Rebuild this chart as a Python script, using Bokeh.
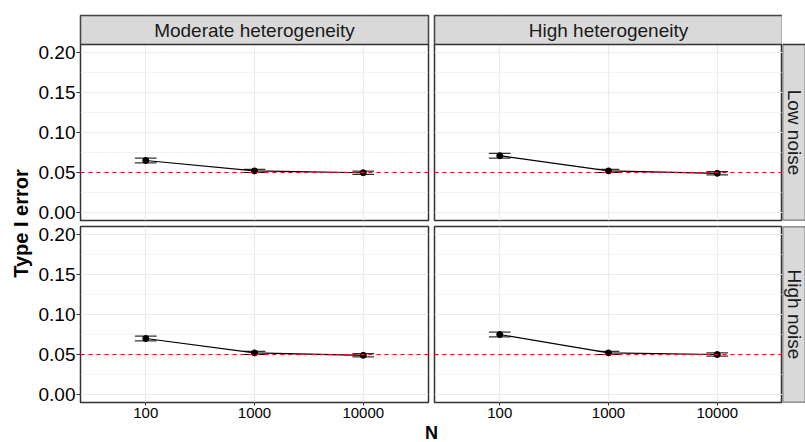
import math
from bokeh.plotting import figure
from bokeh.models import Range1d, FixedTicker, Span, Label, ColumnDataSource, NumeralTickFormatter
from bokeh.core.properties import value
from bokeh.layouts import row, column
from bokeh.embed import file_html
from bokeh.resources import INLINE

# ---------------- data ----------------
N_labels = ["100", "1000", "10000"]
heterogeneity = ["Moderate heterogeneity", "High heterogeneity"]
noise = ["Low noise", "High noise"]
ref_level = 0.05
y_ticks = [0.00, 0.05, 0.10, 0.15, 0.20]
y_minor = [0.025, 0.075, 0.125, 0.175]

# Low noise / Moderate heterogeneity
est_low_mod = [0.065, 0.052, 0.0497]
lo_low_mod = [0.0620, 0.0500, 0.0477]
hi_low_mod = [0.0680, 0.0540, 0.0517]
# Low noise / High heterogeneity
est_low_high = [0.071, 0.052, 0.049]
lo_low_high = [0.0680, 0.0500, 0.0470]
hi_low_high = [0.0740, 0.0540, 0.0510]
# High noise / Moderate heterogeneity
est_high_mod = [0.070, 0.052, 0.049]
lo_high_mod = [0.0670, 0.0500, 0.0470]
hi_high_mod = [0.0730, 0.0540, 0.0510]
# High noise / High heterogeneity
est_high_high = [0.075, 0.052, 0.050]
lo_high_high = [0.0720, 0.0500, 0.0480]
hi_high_high = [0.0780, 0.0540, 0.0520]

# ---------------- style ----------------
FONT = "Liberation Sans"
BORDER = "#333333"
GRID = "#EBEBEB"
STRIP_BG = "#D9D9D9"
CAP = 0.1
x_pos = [i + 1 for i in range(len(N_labels))]
X_LO, X_HI = 0.4, len(N_labels) + 0.6
Y_LO, Y_HI = -0.01, 0.21

PW, PH = 348, 176            # panel frame size
PX_PER_UNIT = PH / (Y_HI - Y_LO)
STRIP = 29                   # strip thickness (px)
RS = 23                      # visible right-strip width
TOP = 15                     # space above top strips
LB = 46                      # y-axis border
GAP = 3                      # half gap between panels
YT_W = 34                    # y-title column width
ROW2_BOTTOM = 20
XT_H = 20
STRIP_TOP_Y = Y_HI + STRIP / PX_PER_UNIT


def base_fig(width, height, xr, yr, xloc, yloc, bl, br, bt, bb):
    return figure(width=width, height=height, x_range=xr, y_range=yr,
                  x_axis_location=xloc, y_axis_location=yloc,
                  toolbar_location=None, output_backend="svg", title=None,
                  min_border_left=bl, min_border_right=br,
                  min_border_top=bt, min_border_bottom=bb)


def panel(est, lo, hi, left_axis, bottom_axis, strip_text, width, height, bl, br, bt, bb):
    y_top = STRIP_TOP_Y if strip_text else Y_HI
    p = base_fig(width, height, Range1d(X_LO, X_HI), Range1d(Y_LO, y_top),
                 "below" if bottom_axis else None, "left" if left_axis else None,
                 bl, br, bt, bb)
    p.background_fill_color = "white"
    p.border_fill_color = "white"
    p.outline_line_color = BORDER
    p.outline_line_width = 1.5

    p.xgrid.ticker = FixedTicker(ticks=x_pos)
    p.ygrid.ticker = FixedTicker(ticks=y_ticks, minor_ticks=y_minor)
    p.xgrid.grid_line_color = GRID
    p.ygrid.grid_line_color = GRID
    p.xgrid.grid_line_width = 1.1
    p.ygrid.grid_line_width = 1.1
    p.ygrid.minor_grid_line_color = GRID
    p.ygrid.minor_grid_line_width = 0.6

    if left_axis:
        ax = p.yaxis[0]
        ax.ticker = FixedTicker(ticks=y_ticks)
        ax.formatter = NumeralTickFormatter(format="0.00")
        ax.axis_line_color = None
        ax.major_tick_line_color = BORDER
        ax.major_tick_out = 4
        ax.major_tick_in = 0
        ax.minor_tick_line_color = None
        ax.major_label_standoff = 1
        ax.major_label_text_font = FONT
        ax.major_label_text_font_size = "19px"
        ax.major_label_text_color = "black"
    if bottom_axis:
        ax = p.xaxis[0]
        ax.ticker = FixedTicker(ticks=x_pos)
        ax.major_label_overrides = {x: lab for x, lab in zip(x_pos, N_labels)}
        ax.axis_line_color = None
        ax.major_tick_line_color = BORDER
        ax.major_tick_out = 3
        ax.major_tick_in = 0
        ax.minor_tick_line_color = None
        ax.major_label_standoff = 2
        ax.major_label_text_font = FONT
        ax.major_label_text_font_size = "15px"
        ax.major_label_text_color = "black"

    src = ColumnDataSource(dict(
        x=x_pos, est=est, lo=lo, hi=hi,
        xl=[x - CAP for x in x_pos], xr=[x + CAP for x in x_pos]))
    p.segment(x0="x", y0="lo", x1="x", y1="hi", source=src, line_color="black", line_width=1)
    p.segment(x0="xl", y0="lo", x1="xr", y1="lo", source=src, line_color="black", line_width=1)
    p.segment(x0="xl", y0="hi", x1="xr", y1="hi", source=src, line_color="black", line_width=1)
    p.line(x="x", y="est", source=src, line_color="black", line_width=1.2)
    p.scatter(x="x", y="est", source=src, size=6, fill_color="black", line_color="black")
    p.add_layout(Span(location=ref_level, dimension="width", line_color="red",
                      line_dash="4 4", line_width=1.2))

    if strip_text:
        p.quad(left=[X_LO], right=[X_HI], bottom=[Y_HI], top=[STRIP_TOP_Y],
               fill_color=STRIP_BG, line_color=BORDER, line_width=1.5)
        p.text(x=[(X_LO + X_HI) / 2], y=[(Y_HI + STRIP_TOP_Y) / 2], text=[strip_text],
               text_align="center", text_baseline="middle",
               text_font=value(FONT), text_font_size="19px", text_color="#1A1A1A")
    return p


def side_strip(text, width, height, bt, bb, with_top_strip):
    y_top = STRIP_TOP_Y if with_top_strip else Y_HI
    s = base_fig(width, height, Range1d(0, 1), Range1d(Y_LO, y_top), None, None, 0, 0, bt, bb)
    s.background_fill_color = "white"
    s.border_fill_color = "white"
    s.outline_line_color = None
    s.xgrid.grid_line_color = None
    s.ygrid.grid_line_color = None
    s.quad(left=[0], right=[1], bottom=[Y_LO], top=[Y_HI],
           fill_color=STRIP_BG, line_color=BORDER, line_width=1.5)
    s.text(x=[0.5], y=[(Y_LO + Y_HI) / 2], text=[text], angle=-math.pi / 2,
           text_align="center", text_baseline="middle",
           text_font=value(FONT), text_font_size="19px", text_color="#1A1A1A")
    return s


def blank(width, height):
    b = base_fig(width, height, Range1d(0, 1), Range1d(0, 1), None, None, 0, 0, 0, 0)
    b.outline_line_color = None
    b.border_fill_color = "white"
    b.background_fill_color = "white"
    b.xgrid.grid_line_color = None
    b.ygrid.grid_line_color = None
    return b


# ---------------- layout ----------------
left_w = LB + PW + GAP
right_w = GAP + PW
row1_h = TOP + STRIP + PH + GAP
row2_h = GAP + PH + ROW2_BOTTOM
total_h = row1_h + row2_h + XT_H
inner_w = left_w + right_w + RS

p_tl = panel(est_low_mod, lo_low_mod, hi_low_mod, True, False, heterogeneity[0],
             left_w, row1_h, LB, GAP, TOP, GAP)
p_tr = panel(est_low_high, lo_low_high, hi_low_high, False, False, heterogeneity[1],
             right_w, row1_h, GAP, 0, TOP, GAP)
rs_1 = side_strip(noise[0], RS, row1_h, TOP, GAP, True)

p_bl = panel(est_high_mod, lo_high_mod, hi_high_mod, True, True, None,
             left_w, row2_h, LB, GAP, GAP, ROW2_BOTTOM)
p_br = panel(est_high_high, lo_high_high, hi_high_high, False, True, None,
             right_w, row2_h, GAP, 0, GAP, ROW2_BOTTOM)
rs_2 = side_strip(noise[1], RS, row2_h, GAP, ROW2_BOTTOM, False)

xt = blank(inner_w, XT_H)
xt.add_layout(Label(x=LB + PW + GAP, y=XT_H / 2, x_units="screen", y_units="screen", text="N",
                    text_align="center", text_baseline="middle",
                    text_font=FONT, text_font_size="18px", text_font_style="bold",
                    text_color="black"))

yt = blank(YT_W, total_h)
panels_center_from_top = TOP + STRIP + (PH + GAP + GAP + PH) / 2
yt.add_layout(Label(x=20, y=total_h - panels_center_from_top, x_units="screen", y_units="screen",
                    text="Type I error", text_align="center", text_baseline="middle",
                    angle=math.pi / 2,
                    text_font=FONT, text_font_size="20px", text_font_style="bold",
                    text_color="black"))

layout = row(yt, column(row(p_tl, p_tr, rs_1), row(p_bl, p_br, rs_2), xt))

open("out.html", "w").write(file_html(layout, INLINE))
